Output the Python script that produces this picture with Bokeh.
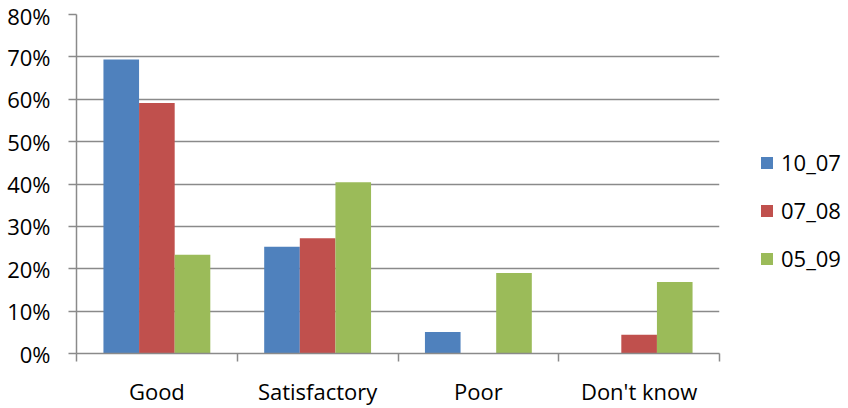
from bokeh.plotting import figure
from bokeh.models import (ColumnDataSource, FixedTicker, NumeralTickFormatter,
                          Legend, LegendItem, Range1d)
from bokeh.transform import dodge
from bokeh.embed import file_html
from bokeh.resources import INLINE

categories = ["Good", "Satisfactory", "Poor", "Don't know"]
series = ["10_07", "07_08", "05_09"]
s10_07 = [0.694, 0.252, 0.051, 0.0]
s07_08 = [0.591, 0.272, 0.0, 0.044]
s05_09 = [0.233, 0.404, 0.190, 0.169]
colors = ["#4F81BD", "#C0504D", "#9BBB59"]
y_ticks = [0.0, 0.1, 0.2, 0.3, 0.4, 0.5, 0.6, 0.7, 0.8]

FONT = "Open Sans"
GRAY = "#8a8a8a"

n = len(categories)
pos = [i + 0.5 for i in range(n)]
bounds = [float(i) for i in range(n + 1)]
src = ColumnDataSource(dict(x=pos, s0=s10_07, s1=s07_08, s2=s05_09))

p = figure(frame_width=643, frame_height=339,
           x_range=Range1d(0, n), y_range=Range1d(y_ticks[0], y_ticks[-1]),
           output_backend="svg", toolbar_location=None,
           min_border_left=76, min_border_top=14, min_border_right=129,
           min_border_bottom=55)
p.outline_line_color = None
p.background_fill_color = "white"
p.border_fill_color = "white"

bw = 0.2216
renderers = []
for k, col in enumerate(["s0", "s1", "s2"]):
    r = p.vbar(x=dodge("x", (k - 1) * bw, range=p.x_range), top=col, width=bw,
               source=src, fill_color=colors[k], line_color=None)
    renderers.append(r)

# y axis
p.yaxis.ticker = FixedTicker(ticks=y_ticks)
p.yaxis.formatter = NumeralTickFormatter(format="0%")
p.yaxis.major_tick_in = 0
p.yaxis.major_tick_out = 8
p.yaxis.minor_tick_line_color = None
p.yaxis.major_tick_line_color = GRAY
p.yaxis.major_tick_line_width = 1.5
p.yaxis.axis_line_color = GRAY
p.yaxis.axis_line_width = 1.5
p.yaxis.major_label_text_font = FONT
p.yaxis.major_label_text_font_size = "22px"
p.yaxis.major_label_text_color = "black"
p.yaxis.major_label_standoff = 18

p.ygrid.ticker = FixedTicker(ticks=y_ticks)
p.ygrid.grid_line_color = GRAY
p.ygrid.grid_line_width = 1.5
p.xgrid.grid_line_color = None

# x axis
p.xaxis.ticker = FixedTicker(ticks=pos, minor_ticks=bounds)
p.xaxis.major_label_overrides = {pv: c for pv, c in zip(pos, categories)}
p.xaxis.major_tick_line_color = None
p.xaxis.major_tick_in = 0
p.xaxis.major_tick_out = 8
p.xaxis.minor_tick_in = 0
p.xaxis.minor_tick_out = 8
p.xaxis.minor_tick_line_color = GRAY
p.xaxis.minor_tick_line_width = 1.5
p.xaxis.axis_line_color = GRAY
p.xaxis.axis_line_width = 1.5
p.xaxis.major_label_text_font = FONT
p.xaxis.major_label_text_font_size = "22px"
p.xaxis.major_label_text_color = "black"
p.xaxis.major_label_standoff = 14

legend = Legend(items=[LegendItem(label=s, renderers=[r]) for s, r in zip(series, renderers)],
                location=(40, 80))
legend.label_text_font = FONT
legend.label_text_font_size = "22px"
legend.label_text_color = "black"
legend.glyph_width = 15
legend.glyph_height = 15
legend.label_height = 30
legend.spacing = 18
legend.padding = 0
legend.margin = 0
legend.label_standoff = 7
legend.border_line_color = None
legend.background_fill_alpha = 0
p.add_layout(legend, "right")

open("out.html", "w").write(file_html(p, INLINE))
